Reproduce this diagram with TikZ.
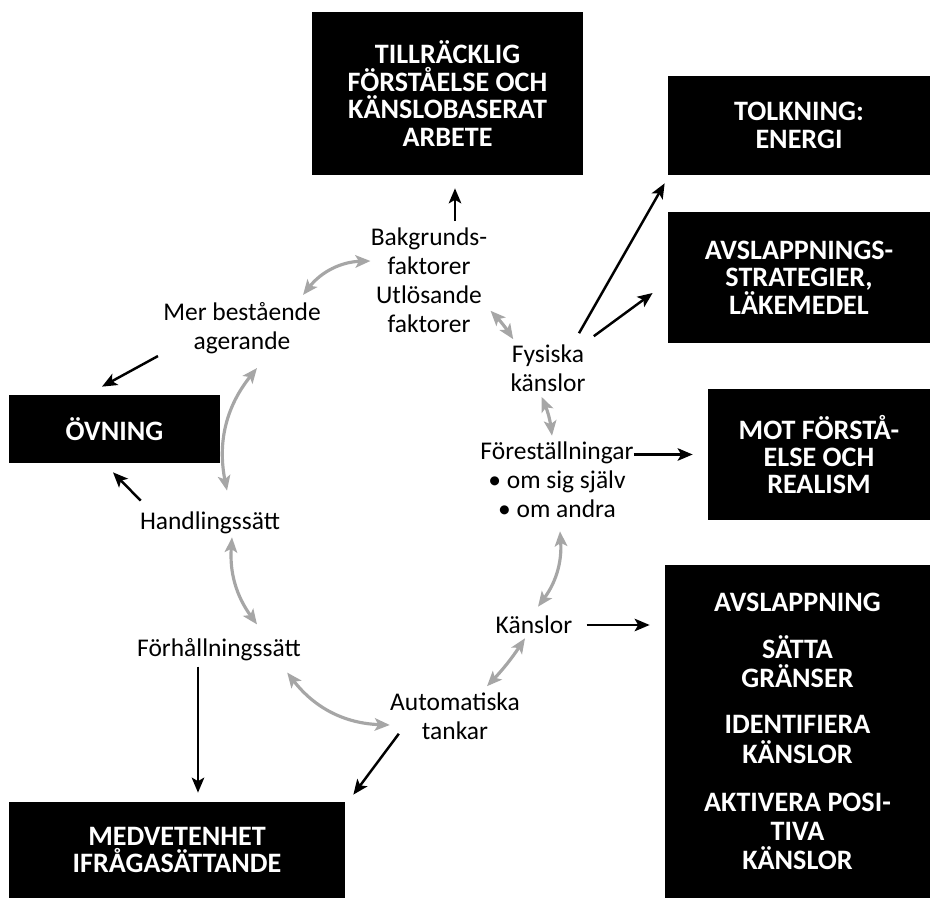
\documentclass[tikz,border=0pt]{standalone}
\usepackage{fontspec}
\setmainfont{Carlito}
\usetikzlibrary{arrows.meta}
\definecolor{cyclegray}{HTML}{A6A6A6}

\begin{document}
\begin{tikzpicture}[>={Stealth[length=3mm,width=2.5mm,inset=0.7mm]},
					black_box/.style = {fill=black, text=white, align=center, inner sep=0pt,
						font=\fontsize{16}{15.6}\selectfont\bfseries},
					cycle_text/.style = {align=center, inner sep=0pt,
						font=\fontsize{14.5}{16.5}\selectfont},
					out_arrow/.style = {->, line width=1.4pt},
					cycle_arrow/.style = {<->, cyclegray, line width=1.8pt}
				]
				\useasboundingbox (0,0) rectangle (18.7,17.98);

				% black boxes
				\node[black_box, minimum width=5.42cm, minimum height=3.26cm] (tillracklig) at (8.95,16.11)
				{TILLRÄCKLIG\\FÖRSTÅELSE OCH\\KÄNSLOBASERAT\\ARBETE};
				\node[black_box, minimum width=5.24cm, minimum height=1.98cm] (tolkning) at (15.98,15.47)
				{TOLKNING:\\ENERGI};
				\node[black_box, minimum width=5.24cm, minimum height=2.62cm] (avslappning) at (15.98,12.43)
				{AVSLAPPNINGS-\\STRATEGIER,\\LÄKEMEDEL};
				\node[black_box, minimum width=4.44cm, minimum height=2.62cm] (mot) at (16.38,8.89)
				{MOT FÖRSTÅ-\\ELSE OCH\\REALISM};
				\node[black_box, minimum width=5.30cm, minimum height=6.66cm,
					font=\fontsize{16}{16.6}\selectfont\bfseries] (atgarder) at (15.95,3.35)
				{AVSLAPPNING\\[10pt]SÄTTA\\GRÄNSER\\[10pt]IDENTIFIERA\\KÄNSLOR\\[11pt]AKTIVERA POSI-\\TIVA\\KÄNSLOR};
				\node[black_box, minimum width=4.22cm, minimum height=1.36cm] (ovning) at (2.29,9.40)
				{ÖVNING};
				\node[black_box, minimum width=6.72cm, minimum height=1.92cm] (medvetenhet) at (3.54,0.98)
				{MEDVETENHET\\IFRÅGASÄTTANDE};

				% the cycle
				\node[cycle_text] (bakgrund) at (8.58,12.38) {Bakgrunds-\\faktorer\\Utlösande\\faktorer};
				\node[cycle_text] (fysiska) at (10.96,10.62) {Fysiska\\känslor};
				\node[cycle_text] (forestallningar) at (11.14,8.38) {Föreställningar\\• om sig själv\\• om andra};
				\node[cycle_text] (kanslor) at (10.68,5.48) {Känslor};
				\node[cycle_text] (automatiska) at (9.10,3.66) {Automatiska\\tankar};
				\node[cycle_text] (forhallning) at (4.38,4.98) {Förhållningssätt};
				\node[cycle_text] (handling) at (4.20,7.52) {Handlingssätt};
				\node[cycle_text] (mer) at (4.84,11.42) {Mer bestående\\agerande};

				\draw[cycle_arrow] ([xshift=-3.6mm,yshift=1.4mm]mer.north east)
				to[bend left=25] ([yshift=3.8mm]bakgrund.west);
				\draw[cycle_arrow] ([xshift=0.6mm,yshift=4.4mm]bakgrund.south east)
				to[bend left=5] ([xshift=0.6mm,yshift=1mm]fysiska.north west);
				\draw[cycle_arrow] ([xshift=-1.3mm,yshift=-1mm]fysiska.south)
				to[bend left=8] ([xshift=-1mm,yshift=1.2mm]forestallningar.north);
				\draw[cycle_arrow] ([xshift=0.6mm,yshift=-2.6mm]forestallningar.south)
				to[bend left=20] ([xshift=0.8mm,yshift=1.8mm]kanslor.north);
				\draw[cycle_arrow] ([xshift=-1.8mm,yshift=-0.8mm]kanslor.south)
				to[bend left=5] ([xshift=6.4mm,yshift=1.2mm]automatiska.north);
				\draw[cycle_arrow] ([yshift=-1.8mm]automatiska.west)
				to[bend left=25] ([xshift=-2.8mm,yshift=-2.2mm]forhallning.south east);
				\draw[cycle_arrow] ([xshift=7.6mm,yshift=2.8mm]forhallning.north)
				to[bend left=20] ([xshift=4.4mm,yshift=-0.6mm]handling.south);
				\draw[cycle_arrow] ([xshift=3.4mm,yshift=4.2mm]handling.north)
				to[bend left=25] ([xshift=3mm,yshift=-2.8mm]mer.south);

				% arrows out to the boxes
				\draw[out_arrow, shorten <=1.2mm, shorten >=2.6mm] ([xshift=5.2mm]bakgrund.north)
				-- ([xshift=5.2mm]bakgrund.north |- tillracklig.south);
				\draw[out_arrow] ([xshift=6.2mm,yshift=2.2mm]fysiska.north)
				-- ([xshift=-0.6mm,yshift=-1.6mm]tolkning.south west);
				\draw[out_arrow] ([xshift=1.6mm,yshift=1.6mm]fysiska.north east)
				-- ([xshift=-3mm,yshift=-3.1mm]avslappning.west);
				\draw[out_arrow, shorten >=3mm] (forestallningar.east |- mot.west) -- (mot.west);
				\draw[out_arrow, shorten <=2.8mm, shorten >=3mm] (kanslor.east) -- (kanslor.east -| atgarder.west);
				\draw[out_arrow] ([xshift=-1mm,yshift=-0.4mm]mer.south west)
				-- ([xshift=-2.5mm,yshift=1.6mm]ovning.north);
				\draw[out_arrow] ([xshift=0.2mm,yshift=2.2mm]handling.north west)
				-- ([xshift=-0.3mm,yshift=-1.8mm]ovning.south);
				\draw[out_arrow, shorten <=1mm, shorten >=1.8mm] ([xshift=-4.2mm]forhallning.south)
				-- ([xshift=-4.2mm]forhallning.south |- medvetenhet.north);
				\draw[out_arrow] ([xshift=1.8mm,yshift=1.2mm]automatiska.south west)
				-- ([xshift=1.6mm,yshift=1.4mm]medvetenhet.north east);
			\end{tikzpicture}
\end{document}
